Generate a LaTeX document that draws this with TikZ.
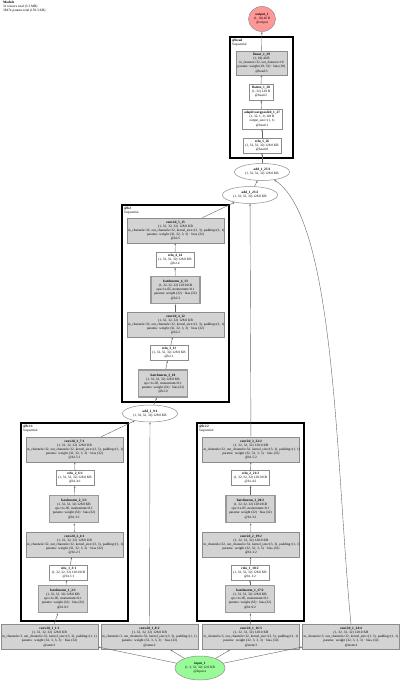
\documentclass[tikz,border=0pt]{standalone}
\usepackage{fontspec}
\setmainfont{Liberation Serif}
\usetikzlibrary{arrows.meta,shapes.geometric}
\definecolor{layergray}{HTML}{D3D3D3}
\definecolor{ingreen}{HTML}{98FB98}
\definecolor{outred}{HTML}{FF9797}

\begin{document}
\begin{tikzpicture}[x=1pt,y=-1pt,
  every node/.style={font=\fontsize{3.4}{4.1}\selectfont,inner sep=0.8pt,align=center},
  lay/.style={rectangle,draw=black!45,line width=0.5pt,fill=white},
  prm/.style={lay,fill=layergray},
  cnv/.style={prm,minimum height=25pt,text width=95pt},
  bnm/.style={prm,draw=black!40,line width=1.5pt,minimum width=49pt,minimum height=27pt},
  act/.style={lay,minimum width=38pt,minimum height=15pt},
  addop/.style={ellipse,draw=black!45,line width=0.5pt,fill=white,minimum width=55pt,minimum height=17pt,inner sep=0pt},
  blk/.style={draw=black,line width=1.5pt},
  blab/.style={anchor=north west,align=left,inner sep=0pt},
  flow/.style={-{Stealth[length=2.2pt,width=1.6pt]},draw=black!60,line width=0.4pt}]
\useasboundingbox (0,0) rectangle (400,682);

\node[blab] (hdr) at (3,1) {\textbf{Module}\\31 tensors total (3.3 MB)\\38474 params total (150.3 KB)};

% modules
\draw[blk] (230,37) rectangle (293,158);
\node[blab] (lhead) at (232,39) {\textbf{@head}\\Sequential};
\draw[blk] (122,205) rectangle (229,402);
\node[blab] (lb2) at (124,207) {\textbf{@b2}\\Sequential};
\draw[blk] (21,423) rectangle (128,621);
\node[blab] (lb1a) at (23,425) {\textbf{@b1:1}\\Sequential};
\draw[blk] (197,423) rectangle (304,621);
\node[blab] (lb1b) at (199,425) {\textbf{@b1:2}\\Sequential};

\node[ellipse,draw=black!45,line width=0.5pt,fill=ingreen,minimum width=50pt,minimum height=24pt,inner sep=0pt] (in1) at (200,668)
  {\textbf{input\_1}\\(1, 3, 32, 32) 12.0 KB\\@input.x};
\foreach \n/\i/\x in {1/1/49.5,8/2/149.5,16/3/251,24/4/351}
  \node[cnv] (c\n) at (\x,637) {\textbf{conv2d\_1\_\n:\i}\\(1, 32, 32, 32) 128.0 KB\\
    \mbox{in\_channels=3, out\_channels=32, kernel\_size=(3, 3), padding=(1, 1)}\\
    params: weight (32, 3, 3, 3) · bias (32)\\@stem:\i};

% first pass of b1
\node[bnm] (bn2) at (63,599) {\textbf{batchnorm\_1\_2:1}\\(1, 32, 32, 32) 128.0 KB\\eps=1e-05, momentum=0.1\\params: weight (32) · bias (32)\\@b1.0:1};
\node[act] (r3) at (68.5,572.5) {\textbf{relu\_1\_3:1}\\(1, 32, 32, 32) 128.0 KB\\@b1.1:1};
\node[cnv] (c4) at (74.5,544.5) {\textbf{conv2d\_2\_4:1}\\(1, 32, 32, 32) 128.0 KB\\
  \mbox{in\_channels=32, out\_channels=32, kernel\_size=(3, 3), padding=(1, 1)}\\
  params: weight (32, 32, 3, 3) · bias (32)\\@b1.2:1};
\node[bnm] (bn5) at (74,509) {\textbf{batchnorm\_2\_5:1}\\(1, 32, 32, 32) 128.0 KB\\eps=1e-05, momentum=0.1\\params: weight (32) · bias (32)\\@b1.3:1};
\node[act] (r6) at (75,478) {\textbf{relu\_2\_6:1}\\(1, 32, 32, 32) 128.0 KB\\@b1.4:1};
\node[cnv] (c7) at (74.5,449.5) {\textbf{conv2d\_3\_7:1}\\(1, 32, 32, 32) 128.0 KB\\
  \mbox{in\_channels=32, out\_channels=32, kernel\_size=(3, 3), padding=(1, 1)}\\
  params: weight (32, 32, 3, 3) · bias (32)\\@b1.5:1};
\node[addop] (add9) at (150,413.5) {\textbf{add\_1\_9:1}\\(1, 32, 32, 32) 128.0 KB};

% b2
\node[bnm] (bn10) at (163,383.5) {\textbf{batchnorm\_3\_10}\\(1, 32, 32, 32) 128.0 KB\\eps=1e-05, momentum=0.1\\params: weight (32) · bias (32)\\@b2.0};
\node[act] (r11) at (169,353) {\textbf{relu\_3\_11}\\(1, 32, 32, 32) 128.0 KB\\@b2.1};
\node[cnv] (c12) at (175.5,324.5) {\textbf{conv2d\_4\_12}\\(1, 32, 32, 32) 128.0 KB\\
  \mbox{in\_channels=32, out\_channels=32, kernel\_size=(3, 3), padding=(1, 1)}\\
  params: weight (32, 32, 3, 3) · bias (32)\\@b2.2};
\node[bnm] (bn13) at (175.5,290) {\textbf{batchnorm\_4\_13}\\(1, 32, 32, 32) 128.0 KB\\eps=1e-05, momentum=0.1\\params: weight (32) · bias (32)\\@b2.3};
\node[act] (r14) at (175,260) {\textbf{relu\_4\_14}\\(1, 32, 32, 32) 128.0 KB\\@b2.4};
\node[cnv] (c15) at (175.5,230.5) {\textbf{conv2d\_5\_15}\\(1, 32, 32, 32) 128.0 KB\\
  \mbox{in\_channels=32, out\_channels=32, kernel\_size=(3, 3), padding=(1, 1)}\\
  params: weight (32, 32, 3, 3) · bias (32)\\@b2.5};

% second pass of b1
\node[bnm] (bn17) at (250,599) {\textbf{batchnorm\_1\_17:2}\\(1, 32, 32, 32) 128.0 KB\\eps=1e-05, momentum=0.1\\params: weight (32) · bias (32)\\@b1.0:2};
\node[act] (r18) at (250,572.5) {\textbf{relu\_1\_18:2}\\(1, 32, 32, 32) 128.0 KB\\@b1.1:2};
\node[cnv] (c19) at (251,544.5) {\textbf{conv2d\_2\_19:2}\\(1, 32, 32, 32) 128.0 KB\\
  \mbox{in\_channels=32, out\_channels=32, kernel\_size=(3, 3), padding=(1, 1)}\\
  params: weight (32, 32, 3, 3) · bias (32)\\@b1.2:2};
\node[bnm] (bn20) at (250.5,509) {\textbf{batchnorm\_2\_20:2}\\(1, 32, 32, 32) 128.0 KB\\eps=1e-05, momentum=0.1\\params: weight (32) · bias (32)\\@b1.3:2};
\node[act] (r21) at (250.5,478) {\textbf{relu\_2\_21:2}\\(1, 32, 32, 32) 128.0 KB\\@b1.4:2};
\node[cnv] (c22) at (251,449.5) {\textbf{conv2d\_3\_22:2}\\(1, 32, 32, 32) 128.0 KB\\
  \mbox{in\_channels=32, out\_channels=32, kernel\_size=(3, 3), padding=(1, 1)}\\
  params: weight (32, 32, 3, 3) · bias (32)\\@b1.5:2};
\node[addop] (add23) at (250,195) {\textbf{add\_1\_23:2}\\(1, 32, 32, 32) 128.0 KB};
\node[addop] (add25) at (262,172) {\textbf{add\_1\_25:3}\\(1, 32, 32, 32) 128.0 KB};

% head
\node[act] (r26) at (262,145.5) {\textbf{relu\_5\_26}\\(1, 32, 32, 32) 128.0 KB\\@head.0};
\node[lay,minimum width=40pt,minimum height=20pt] (pool27) at (262,119) {\textbf{adaptiveavgpool2d\_1\_27}\\(1, 32, 1, 1) 128 B\\output\_size=(1, 1)\\@head.1};
\node[lay,minimum width=24pt,minimum height=16pt] (flat28) at (261,92) {\textbf{flatten\_1\_28}\\(1, 32) 128 B\\@head.2};
\node[prm,minimum width=51pt,minimum height=24pt] (lin29) at (261.5,63) {\textbf{linear\_1\_29}\\(1, 10) 40 B\\in\_features=32, out\_features=10\\params: weight (10, 32) · bias (10)\\@head.3};
\node[ellipse,draw=black!45,line width=0.5pt,fill=outred,minimum width=27pt,minimum height=25pt,inner sep=0pt] (out1) at (262,19)
  {\textbf{output\_1}\\(1, 10) 40 B\\@output};

\foreach \n in {1,8,16,24}
  \draw[flow] (in1) -- (c\n);
\foreach \a/\b in {c1/bn2,bn2/r3,r3/c4,c4/bn5,bn5/r6,r6/c7,c7/add9,c8/add9,
  add9/bn10,bn10/r11,r11/c12,c12/bn13,bn13/r14,r14/c15,c15/add23,
  c16/bn17,bn17/r18,r18/c19,c19/bn20,bn20/r21,r21/c22,c22/add23,
  add23/add25,add25/r26,r26/pool27,pool27/flat28,flat28/lin29,lin29/out1}
  \draw[flow] (\a) -- (\b);
\draw[flow] (c24.north) .. controls (336,470) and (336,220) .. (add25);
\end{tikzpicture}
\end{document}
